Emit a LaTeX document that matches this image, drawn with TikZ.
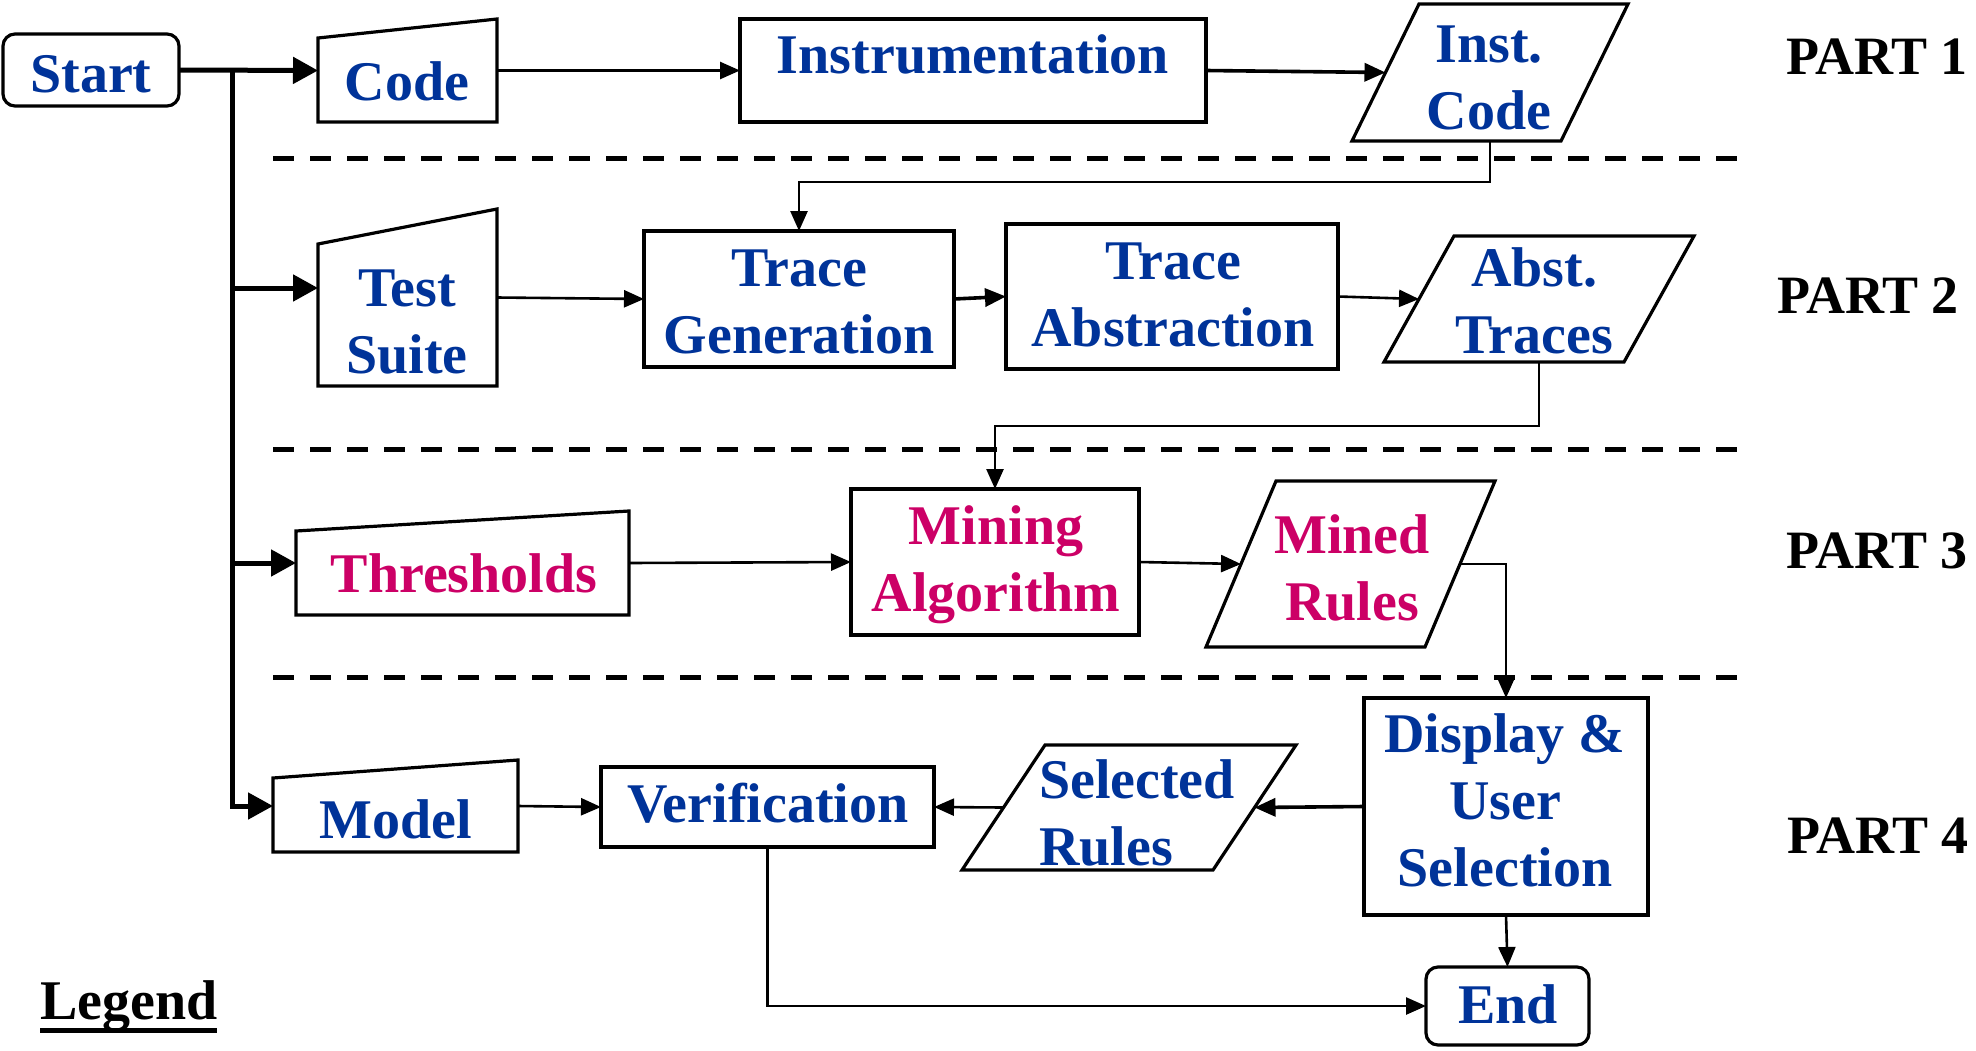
\documentclass[tikz,border=0pt]{standalone}
\usepackage{fontspec}
\setmainfont{Liberation Serif}
\usetikzlibrary{arrows.meta,fit,calc}
\definecolor{fblue}{RGB}{0,51,153}
\definecolor{fmag}{RGB}{204,0,102}
\begin{document}
\begin{tikzpicture}[x=0.5pt,y=-0.5pt,
  every node/.style={inner sep=0pt,outer sep=0pt},
  frame/.style={draw=black,line width=1.6pt},
  area/.style={inner sep=0pt,outer sep=0pt},
  lbl/.style={font=\fontsize{28}{33.5}\selectfont\bfseries,anchor=base},
  partlbl/.style={font=\fontsize{27}{32}\selectfont\bfseries,anchor=base,text=black},
  bt/.style={text=fblue},
  mt/.style={text=fmag},
  conn/.style={line width=1.3pt,-{Triangle[length=10pt,width=8.5pt]}},
  conntwo/.style={line width=1.8pt,-{Triangle[length=10.5pt,width=9pt]}},
  busline/.style={line width=2.5pt},
  busarrow/.style={line width=2.5pt,-{Triangle[length=12.5pt,width=13pt]}},
  sepline/.style={line width=2.5pt,dash pattern=on 10.5pt off 8pt}
]
\useasboundingbox (0,0) rectangle (1976,1050);

% ---------- rectangles ----------
\node[frame,rounded corners=6pt,fit={(3,34) (179,106)}] (start) {};
\node[frame,fit={(740,19) (1206,122)}] (instr) {};
\node[frame,fit={(644,231) (954,367)}] (tg) {};
\node[frame,fit={(1006,224) (1338,369)}] (ta) {};
\node[frame,fit={(851,489) (1139,635)}] (ma) {};
\node[frame,fit={(601,767) (934,847)}] (ver) {};
\node[frame,fit={(1364,698) (1648,915)}] (dus) {};
\node[frame,rounded corners=6pt,fit={(1426,967) (1589,1045)}] (end) {};

% ---------- manual-input trapezoids ----------
\node[area,fit={(318,19) (497,122)}] (code) {};
\draw[frame] (code.south west) -- (code.south east) -- (code.north east) -- ([yshift=-9.5pt]code.north west) -- cycle;
\node[area,fit={(318,209) (497,386)}] (ts) {};
\draw[frame] (ts.south west) -- (ts.south east) -- (ts.north east) -- ([yshift=-17.5pt]ts.north west) -- cycle;
\node[area,fit={(296,511) (629,615)}] (th) {};
\draw[frame] (th.south west) -- (th.south east) -- (th.north east) -- ([yshift=-10pt]th.north west) -- cycle;
\node[area,fit={(273,760) (518,852)}] (mod) {};
\draw[frame] (mod.south west) -- (mod.south east) -- (mod.north east) -- ([yshift=-9pt]mod.north west) -- cycle;

% ---------- parallelograms ----------
\node[area,fit={(1352,4) (1628,141)}] (ic) {};
\draw[frame] ([xshift=33.5pt]ic.north west) -- (ic.north east) -- ([xshift=-33.5pt]ic.south east) -- (ic.south west) -- cycle;
\coordinate (ic-l) at ([xshift=16.75pt]ic.west);
\node[area,fit={(1384,236) (1694,362)}] (at) {};
\draw[frame] ([xshift=35pt]at.north west) -- (at.north east) -- ([xshift=-35pt]at.south east) -- (at.south west) -- cycle;
\coordinate (at-l) at ([xshift=17.5pt]at.west);
\node[area,fit={(1206,481) (1495,647)}] (mr) {};
\draw[frame] ([xshift=35pt]mr.north west) -- (mr.north east) -- ([xshift=-35pt]mr.south east) -- (mr.south west) -- cycle;
\coordinate (mr-l) at ([xshift=17.5pt]mr.west);
\coordinate (mr-r) at ([xshift=-17.5pt]mr.east);
\node[area,fit={(962,745) (1296,870)}] (sr) {};
\draw[frame] ([xshift=41.5pt]sr.north west) -- (sr.north east) -- ([xshift=-41.5pt]sr.south east) -- (sr.south west) -- cycle;
\coordinate (sr-l) at ([xshift=20.75pt]sr.west);
\coordinate (sr-r) at ([xshift=-20.75pt]sr.east);

% ---------- separators ----------
\draw[sepline] (273,158) -- (1739,158);
\draw[sepline] (273,449) -- (1739,449);
\draw[sepline] (273,677) -- (1739,677);

% ---------- labels ----------
\node[lbl,bt] (start-t) at (91,92) {Start};
\node[lbl,bt] (code-t) at (407,100) {Code};
\node[lbl,bt] (instr-t) at (973,73) {Instrumentation};
\node[lbl,bt] (ic-t) at (1489,62) {\begin{tabular}[t]{@{}c@{}}Inst.\\Code\end{tabular}};
\node[lbl,bt] (ts-t) at (407,306) {\begin{tabular}[t]{@{}c@{}}Test\\Suite\end{tabular}};
\node[lbl,bt] (tg-t) at (799,286) {\begin{tabular}[t]{@{}c@{}}Trace\\Generation\end{tabular}};
\node[lbl,bt] (ta-t) at (1173,279) {\begin{tabular}[t]{@{}c@{}}Trace\\Abstraction\end{tabular}};
\node[lbl,bt] (at-t) at (1534,286) {\begin{tabular}[t]{@{}c@{}}Abst.\\Traces\end{tabular}};
\node[lbl,mt] (th-t) at (464,592) {Thresholds};
\node[lbl,mt] (ma-t) at (996,544) {\begin{tabular}[t]{@{}c@{}}Mining\\Algorithm\end{tabular}};
\node[lbl,mt] (mr-t) at (1352,553) {\begin{tabular}[t]{@{}c@{}}Mined\\Rules\end{tabular}};
\node[lbl,bt] (mod-t) at (396,838) {Model};
\node[lbl,bt] (ver-t) at (768,822) {Verification};
\node[lbl,bt,anchor=base west] (sr-t) at (1039,798) {\begin{tabular}[t]{@{}l@{}}Selected\\Rules\end{tabular}};
\node[lbl,bt] (dus-t) at (1505,752) {\begin{tabular}[t]{@{}c@{}}Display \&\\User\\Selection\end{tabular}};
\node[lbl,bt] (end-t) at (1508,1023) {End};

\node[partlbl] (p1) at (1877,74) {PART 1};
\node[partlbl] (p2) at (1868,313) {PART 2};
\node[partlbl] (p3) at (1877,568) {PART 3};
\node[partlbl] (p4) at (1878,853) {PART 4};

\node[lbl,anchor=base west] (legend) at (40,1019) {Legend};
\draw[line width=2.5pt] ([yshift=-5.5pt]legend.base west) -- ([yshift=-5.5pt]legend.base east);

% ---------- bus from Start ----------
\coordinate (bj) at (232,70.5);
\draw[busarrow] (start.east) -- (code.west);
\draw[busarrow] (bj) |- (mod.west);
\coordinate (ts-in) at ([yshift=4.75pt]ts.west);
\draw[busarrow] (bj |- ts-in) -- (ts-in);
\draw[busarrow] (bj |- th.west) -- (th.west);

% ---------- connectors ----------
\draw[conn] (code.east) -- (instr.west);
\draw[conntwo] (instr.east) -- (ic-l);
\coordinate (ic-bend) at ($(ic.south)+(0,41)$);
\draw[conn] (ic.south) -- (ic-bend) -| (tg.north);
\draw[conn] (ts.east) -- (tg.west);
\draw[conntwo] (tg.east) -- (ta.west);
\draw[conn] (ta.east) -- (at-l);
\coordinate (at-bend) at ($(at.south)+(0,64)$);
\draw[conn] (at.south) -- (at-bend) -| (ma.north);
\draw[conn] (th.east) -- (ma.west);
\draw[conn] (ma.east) -- (mr-l);
\draw[conn] (mr-r) -| (dus.north);
\draw[conn] (mod.east) -- (ver.west);
\draw[conntwo] (dus.west) -- (sr-r);
\draw[conn] (sr-l) -- (ver.east);
\draw[conn] (dus.south) -- (end.north);
\draw[conn] (ver.south) |- (end.west);
\end{tikzpicture}
\end{document}
